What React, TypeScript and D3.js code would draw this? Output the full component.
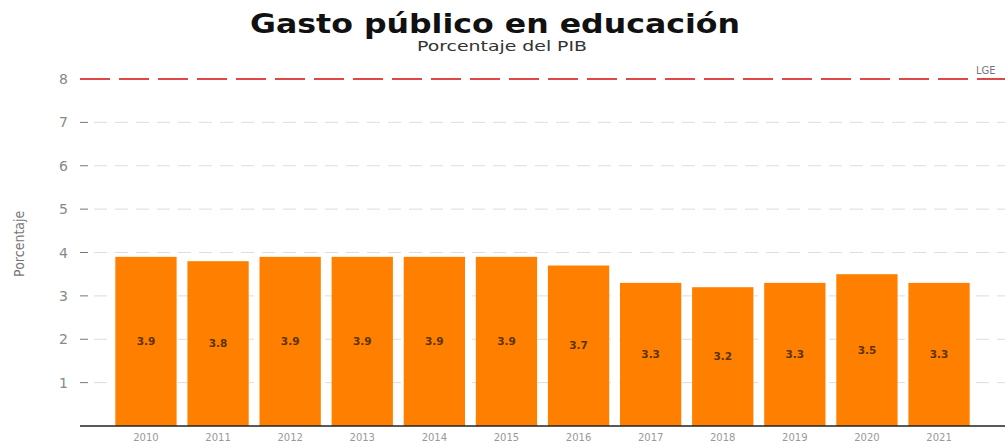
import * as d3 from "d3";

const years = ["2010", "2011", "2012", "2013", "2014", "2015", "2016", "2017", "2018", "2019", "2020", "2021"];
const gasto = [3.9, 3.8, 3.9, 3.9, 3.9, 3.9, 3.7, 3.3, 3.2, 3.3, 3.5, 3.3];
const yTicks = [1, 2, 3, 4, 5, 6, 7, 8];
const metaLGE = 8;

const W = 1005;
const H = 444;
const M = { top: 79, right: 0, bottom: 18, left: 80 };

const FONT = "'DejaVu Sans', 'Open Sans', sans-serif";

export default function App() {
    const x = d3.scaleBand<string>()
        .domain(years)
        .range([M.left, W - M.right])
        .paddingInner(0.15)
        .paddingOuter(0.49);

    const y = d3.scaleLinear()
        .domain([0, 8])
        .range([H - M.bottom, M.top]);

    return (
        <svg width={W} height={H} style={{ position: "absolute", left: 0, top: 0, background: "#fff" }}>
            <text x={250} y={33} textLength={490} lengthAdjust="spacingAndGlyphs" fontFamily={FONT} fontWeight={700} fontSize={27} fill="#111">
                Gasto público en educación
            </text>
            <text x={417} y={51} textLength={170} lengthAdjust="spacingAndGlyphs" fontFamily={FONT} fontSize={14} fill="#333">
                Porcentaje del PIB
            </text>

            {/* grid */}
            {yTicks.filter(t => t !== metaLGE).map(t => (
                <g key={t}>
                    <line x1={M.left} x2={M.left + 8} y1={y(t)} y2={y(t)} stroke="#777" strokeWidth={1} />
                    <line x1={M.left + 14} x2={W} y1={y(t)} y2={y(t)} stroke="#ddd" strokeWidth={1} strokeDasharray="13,8" />
                </g>
            ))}
            {yTicks.map(t => (
                <text key={t} x={68} y={y(t)} dy="0.36em" textAnchor="end" fontFamily={FONT} fontSize={14} fill="#888">
                    {t}
                </text>
            ))}

            <text transform={`translate(24, ${y(4.2)}) rotate(-90)`} textAnchor="middle"
                fontFamily="'DejaVu Sans Condensed', 'Liberation Sans Narrow', sans-serif" fontSize={14} fill="#777"
                style={{ fontStretch: "condensed" }}>
                Porcentaje
            </text>

            {/* bars */}
            {years.map((yr, i) => (
                <g key={yr}>
                    <rect x={x(yr)} y={y(gasto[i])} width={x.bandwidth()} height={y(0) - y(gasto[i])} fill="#FF8000" />
                    <text x={(x(yr) ?? 0) + x.bandwidth() / 2} y={y(gasto[i] / 2)} dy="0.35em" textAnchor="middle"
                        fontFamily={FONT} fontWeight={700} fontSize={10.5} fill="#5a3300">
                        {gasto[i].toFixed(1)}
                    </text>
                    <text x={(x(yr) ?? 0) + x.bandwidth() / 2} y={y(0) + 15} textAnchor="middle"
                        fontFamily={FONT} fontSize={10} fill="#999">
                        {yr}
                    </text>
                </g>
            ))}

            {/* LGE line */}
            <line x1={M.left} x2={W} y1={y(metaLGE)} y2={y(metaLGE)} stroke="#e04848" strokeWidth={2} strokeDasharray="30,9" />
            <text x={976} y={y(metaLGE) - 5} fontFamily={FONT} fontSize={10} fill="#777">LGE</text>

            <line x1={M.left} x2={W} y1={y(0)} y2={y(0)} stroke="#222" strokeWidth={1.5} />
        </svg>
    );
}
